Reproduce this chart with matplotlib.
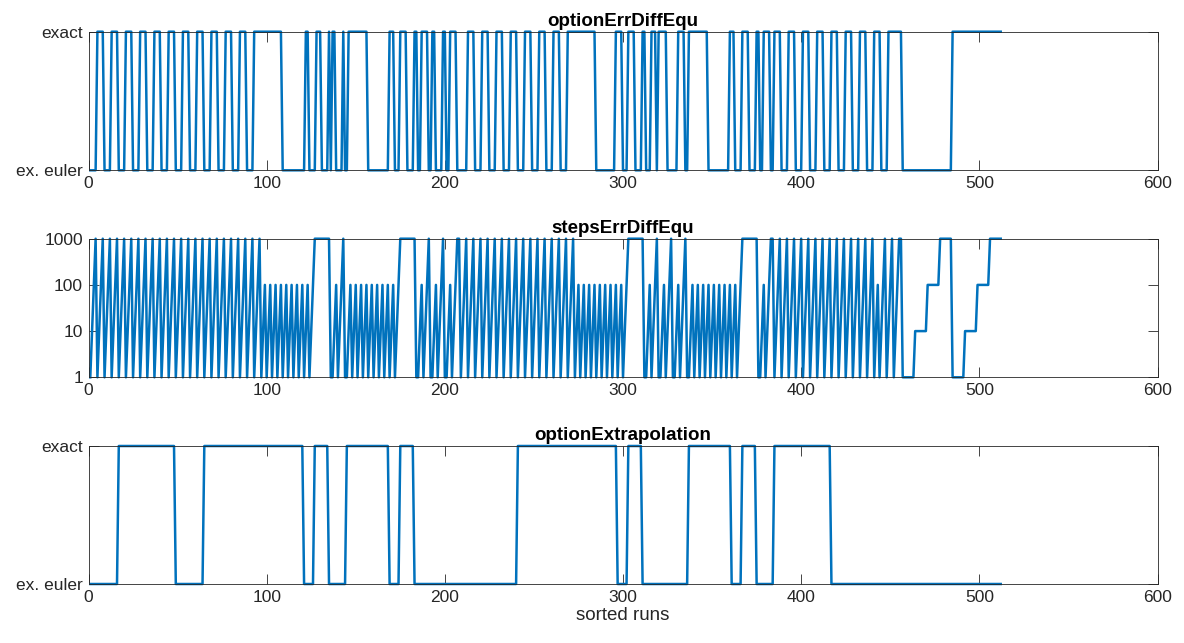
import numpy as np
import matplotlib
matplotlib.use('Agg')
import matplotlib.pyplot as plt

# per-run values, one character per run (runs 1..512)
# optionErrDiffEqu: 0 = ex. euler, 1 = exact
opt_err_str = (
    "0000111100001111000011110000111100001111000011110000111100001111"
    "000011110000111100001111"
    "0000"
    "1111111111111111"
    "0000000000000"
    "11" "0000" "111" "0000" "1" "0" "11" "0000" "1" "00"
    "11111111111"
    "000000000000"
    "111" "000" "1111" "0000" "11" "00" "1111" "00" "11" "0000" "11" "00" "1111"
    "000000"
    "11110000111100001111000011110000111100001111000011110000"
    "1111111111111111"
    "00000000000"
    "1111" "000" "1111" "0000" "11" "000" "111" "0" "11111" "000000" "1111" "00"
    "11111111111"
    "000000000000"
    "111" "0000" "1111" "0000" "11" "00" "1111" "00"
    "11110000111100001111000011110000111100001111000011110000"
    "1111" "0000" "11111111"
    "0000000000000000000000000000"
    "1111111111111111111111111111"
)

# stepsErrDiffEqu as log10 of the step count (0 -> 1, 3 -> 1000)
steps_str = (
    "012301230123012301230123012301230123012301230123"
    "012301230123012301230123012301230123012301230123"
    "012012012012012012012012012"
    "012333333333"
    "001201230"
    "012012012012012012012012012"
    "012333333333"
    "001201230012012300120123"
    "3"
    "0123012301230123012301230123012301230123012301230123012301230123"
    "012012012012012012012012012"
    "012333333333"
    "00120123"
    "0012012300120123"
    "0"
    "012012012012012012012012012"
    "012333333333"
    "00120123"
    "3"
    "01230123012301230123012301230123012301230123012301230123"
    "012"
    "012301230123"
    "3"
    "0000000111111122222223333333"
    "0000000111111122222223333333"
)

# optionExtrapolation as (value, run length), 0 = ex. euler, 1 = exact
extrap_vals = [0, 1, 0, 1, 0, 1, 0, 1, 0, 1, 0, 1, 0, 1, 0, 1, 0, 1, 0, 1, 0]
extrap_lens = [16, 32, 16, 56, 6, 8, 10, 24, 6, 8, 58, 56, 6, 8, 26, 24, 6, 8, 10, 32, 96]

titles = ['optionErrDiffEqu', 'stepsErrDiffEqu', 'optionExtrapolation']
opt_labels = ['ex. euler', 'exact']
step_ticks = [1, 10, 100, 1000]
x_ticks = [0, 100, 200, 300, 400, 500, 600]

opt_err = np.array([int(c) for c in opt_err_str])
steps = 10.0 ** np.array([int(c) for c in steps_str])
extrap = np.repeat(extrap_vals, extrap_lens)
assert len(opt_err) == 512 and len(steps) == 512 and len(extrap) == 512
runs = np.arange(1, 513)

blue = '#0072BD'
dark = '#262626'
plt.rcParams['font.family'] = ['Liberation Sans', 'DejaVu Sans']

fig = plt.figure(figsize=(11.84, 6.43), dpi=100)
left, width = 88.5 / 1184, 1069 / 1184
tops = [31.7, 238.7, 446.0]
bottoms = [170.3, 377.3, 584.0]
axes = []
for t, b in zip(tops, bottoms):
    axes.append(fig.add_axes([left, 1 - b / 643, width, (b - t) / 643]))


def style(ax, title):
    ax.set_xlim(0, 600)
    ax.set_xticks(x_ticks)
    ax.tick_params(direction='in', length=7, width=0.6, top=True, right=True,
                   colors=dark, labelsize=12.5, pad=4)
    ax.tick_params(which='minor', length=0)
    for s in ax.spines.values():
        s.set_color(dark)
        s.set_linewidth(0.6)
    ax.set_title(title, fontsize=13.5, fontweight='bold', pad=4)


ax = axes[0]
ax.plot(runs, opt_err, color=blue, lw=1.8, clip_on=False)
ax.set_ylim(0, 1)
ax.set_yticks([0, 1])
ax.set_yticklabels(opt_labels)
style(ax, titles[0])

ax = axes[1]
ax.plot(runs, steps, color=blue, lw=1.8, clip_on=False)
ax.set_yscale('log')
ax.set_ylim(1, 1000)
ax.set_yticks(step_ticks)
ax.set_yticklabels([str(v) for v in step_ticks])
ax.minorticks_off()
style(ax, titles[1])

ax = axes[2]
ax.plot(runs, extrap, color=blue, lw=1.8, clip_on=False)
ax.set_ylim(0, 1)
ax.set_yticks([0, 1])
ax.set_yticklabels(opt_labels)
style(ax, titles[2])
ax.set_xlabel('sorted runs', fontsize=13.5, color=dark, labelpad=2)

fig.savefig('out.png', dpi=100)
